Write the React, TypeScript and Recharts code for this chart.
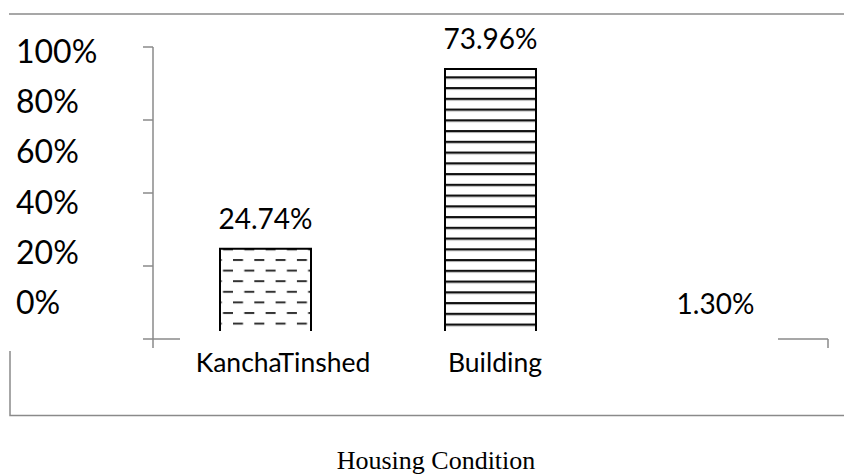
import React from "react";
import { BarChart, Bar, XAxis, YAxis, Cell, LabelList } from "recharts";

const categories = ["Kancha", "Tinshed", "Building"];
const shares = [24.74, 73.96, 1.3];
const valueLabels = ["24.74%", "73.96%", "1.30%"];
const axisTickValues = [0, 20, 40, 60, 80];
const axisTickLabels = [0, 20, 40, 60, 80, 100];
const categoryEdges = [0, 1, 2, 3];
const visibleCategoryText = ["KanchaTinshed", "Building"];
const axisTitle = "Housing Condition";

// each category sits in the middle of its slot on the category axis
const data = categories.map((c, i) => ({ name: c, slot: i + 0.5, value: shares[i], label: valueLabels[i] }));

const GRAY = "#8a8a8a";
const SANS = "Lato, 'Open Sans', sans-serif";

const ValueLabel = (props: any) => {
  const { x, y, width, index } = props;
  return (
    <text
      x={x + width / 2}
      y={y - 20}
      textAnchor="middle"
      fontFamily={SANS}
      fontSize={28}
      fill="#000"
    >
      {valueLabels[index]}
    </text>
  );
};

const LabelTick = (props: any) => {
  const { y, payload } = props;
  return (
    <text x={16} y={y + 11.5} textAnchor="start" fontFamily={SANS} fontSize={32} fill="#000">
      {payload.value}%
    </text>
  );
};

const Empty = () => <g />;

export default function App() {
  return (
    <div style={{ position: "absolute", left: 0, top: 0, width: 844, height: 474, background: "#fff" }}>
      <BarChart
        width={844}
        height={474}
        data={data}
        margin={{ top: 47, right: 0, bottom: 105, left: 0 }}
      >
        <defs>
          <pattern id="patKancha" patternUnits="userSpaceOnUse" x={233} y={259} width={21.3} height={21.2}>
            <rect x={0} y={0} width={21.3} height={21.2} fill="#fff" />
            <rect x={0} y={0} width={10} height={2} fill="#333" />
            <rect x={11.3} y={10.6} width={10} height={2} fill="#333" />
          </pattern>
          <pattern id="patBuilding" patternUnits="userSpaceOnUse" x={0} y={76.3} width={100} height={10.75}>
            <rect x={0} y={0} width={100} height={10.75} fill="#fff" />
            <rect x={0} y={0} width={100} height={2.2} fill="#111" />
            <rect x={0} y={2.2} width={100} height={0.8} fill="#aaa" />
          </pattern>
        </defs>
        <XAxis
          dataKey="slot"
          type="number"
          domain={[0, 3]}
          ticks={categoryEdges}
          interval={0}
          height={30}
          axisLine={{ stroke: GRAY, strokeWidth: 1.5 }}
          tickLine={{ stroke: GRAY, strokeWidth: 1.5 }}
          tickSize={9}
          tick={Empty}
          allowDataOverflow
        />
        <YAxis
          yAxisId="main"
          width={153}
          domain={[0, 80]}
          ticks={axisTickValues}
          interval={0}
          axisLine={{ stroke: GRAY, strokeWidth: 1.5 }}
          tickLine={{ stroke: GRAY, strokeWidth: 1.5 }}
          tickSize={10}
          tick={Empty}
          allowDataOverflow
        />
        <YAxis
          yAxisId="labels"
          orientation="right"
          width={16}
          type="number"
          domain={[-14.29, 101.59]}
          ticks={axisTickLabels}
          interval={0}
          axisLine={false}
          tickLine={false}
          tick={LabelTick}
          allowDataOverflow
        />
        <Bar
          yAxisId="main"
          dataKey="value"
          barSize={91}
          stroke="#000"
          strokeWidth={2}
          isAnimationActive={false}
        >
          <Cell fill="url(#patKancha)" />
          <Cell fill="url(#patBuilding)" />
          <Cell fill="url(#patBuilding)" />
          <LabelList dataKey="label" content={ValueLabel} />
        </Bar>
      </BarChart>
      <svg
        width={844}
        height={474}
        style={{ position: "absolute", left: 0, top: 0, pointerEvents: "none" }}
      >
        <line x1={9} y1={14} x2={844} y2={14} stroke={GRAY} strokeWidth={1.5} />
        <rect x={180} y={331} width={598} height={20} fill="#fff" />
        <polyline points="10,351 10,415.5 844,415.5" fill="none" stroke={GRAY} strokeWidth={1.5} />
        <text x={283} y={372} textAnchor="middle" fontFamily={SANS} fontSize={26.5} fill="#000">
          {visibleCategoryText[0]}
        </text>
        <text x={495} y={372} textAnchor="middle" fontFamily={SANS} fontSize={26.5} fill="#000">
          {visibleCategoryText[1]}
        </text>
        <text x={436} y={469} textAnchor="middle" fontFamily="'Liberation Serif', 'Times New Roman', serif" fontSize={26} fill="#000">
          {axisTitle}
        </text>
      </svg>
    </div>
  );
}
